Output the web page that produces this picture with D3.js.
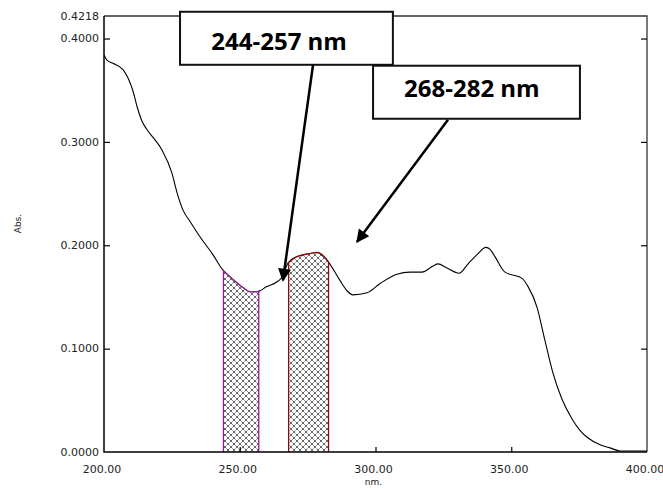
<!DOCTYPE html>
<html>
<head>
<meta charset="utf-8">
<script src="https://cdn.jsdelivr.net/npm/d3@7/dist/d3.min.js"></script>
<style>
  html, body { margin: 0; padding: 0; background: #fff; }
  svg { display: block; }
</style>
</head>
<body>
<svg id="chart" width="663" height="488"></svg>
<script>
// UV absorbance spectrum (wavelength in nm, absorbance)
const wavelengths = [200.0, 201.1, 203.3, 207.0, 208.8, 210.7, 212.2, 214.0, 215.8, 218.8,
  221.4, 225.0, 226.9, 229.1, 231.7, 235.4, 240.1, 243.8, 247.5, 251.2,
  253.8, 256.4, 260.0, 261.9, 265.6, 266.7, 267.8, 271.1, 275.9, 278.5,
  281.4, 282.9, 286.9, 289.5, 291.7, 296.9, 301.7, 307.9, 312.7, 317.1,
  321.2, 323.0, 326.3, 330.8, 334.1, 337.4, 340.7, 342.2, 344.0, 347.7,
  354.0, 356.2, 359.5, 362.4, 365.4, 368.7, 372.4, 375.3, 378.3, 382.7,
  386.4, 390.1, 400.0];
const absorbance = [0.384, 0.379, 0.376, 0.370, 0.362, 0.349, 0.334, 0.320, 0.312, 0.302,
  0.292, 0.270, 0.251, 0.234, 0.223, 0.208, 0.191, 0.176, 0.167, 0.159,
  0.155, 0.155, 0.160, 0.162, 0.169, 0.176, 0.183, 0.189, 0.192, 0.193,
  0.188, 0.183, 0.166, 0.156, 0.152, 0.154, 0.163, 0.172, 0.174, 0.174,
  0.180, 0.182, 0.178, 0.173, 0.182, 0.191, 0.198, 0.196, 0.189, 0.174,
  0.168, 0.160, 0.140, 0.108, 0.076, 0.051, 0.032, 0.021, 0.0135, 0.007,
  0.004, 0.001, 0.001];

// Integrated bands
const bandRanges = [[244, 257], [268, 282.7]];
const bandColors = ["#8e1b8e", "#8b0a0a"];
const bandLabels = ["244-257 nm", "268-282 nm"];

// Axis ticks
const xTicks = [200, 250, 300, 350, 400];
const yTicks = [0, 0.1, 0.2, 0.3, 0.4];
const yMax = 0.4218;

// Annotation callouts: box extents, label anchor and arrow (data units)
const boxX = [[228.0, 306.4], [299.1, 375.3]];
const boxY = [[0.4259, 0.3746], [0.3737, 0.3224]];
const labelPos = [[264.5, 0.389], [335.5, 0.3435]];
const arrowFrom = [[277.0, 0.3746], [326.7, 0.3214]];
const arrowTo = [[265.9, 0.1660], [293.2, 0.2033]];

const spectrum = wavelengths.map((w, i) => ({ w, a: absorbance[i] }));

const svg = d3.select("#chart");
const x = d3.scaleLinear().domain([200, 400]).range([104, 647]);
const y = d3.scaleLinear().domain([0, yMax]).range([452, 16]);

const defs = svg.append("defs");

// Cross-hatch fill
const pat = defs.append("pattern")
  .attr("id", "hatch")
  .attr("patternUnits", "userSpaceOnUse")
  .attr("width", 6).attr("height", 6);
pat.append("rect").attr("width", 6).attr("height", 6).attr("fill", "#fff");
pat.append("path").attr("d", "M0,0L6,6M6,0L0,6M-1,5L1,7M5,-1L7,1M-1,1L1,-1M5,7L7,5")
  .attr("stroke", "#8a8a8a").attr("stroke-width", 0.8);
[[0, 0], [6, 0], [0, 6], [6, 6], [3, 3]].forEach(([cx, cy]) =>
  pat.append("circle").attr("cx", cx).attr("cy", cy).attr("r", 0.75).attr("fill", "#111"));

defs.append("marker")
  .attr("id", "arrowhead")
  .attr("viewBox", "0 0 10 10")
  .attr("refX", 9).attr("refY", 5)
  .attr("markerUnits", "userSpaceOnUse")
  .attr("markerWidth", 16).attr("markerHeight", 13)
  .attr("orient", "auto")
  .append("path").attr("d", "M0,0L10,5L0,10Z").attr("fill", "#000");

// Spectrum line
const line = d3.line().x(d => x(d.w)).y(d => y(d.a)).curve(d3.curveMonotoneX);
svg.append("path")
  .datum(spectrum)
  .attr("fill", "none")
  .attr("stroke", "#000")
  .attr("stroke-width", 1.1)
  .attr("d", line);

// Hatched band areas under the curve
const interp = w => {
  const i = d3.bisector(d => d.w).right(spectrum, w) - 1;
  const a = spectrum[Math.max(0, i)], b = spectrum[Math.min(spectrum.length - 1, i + 1)];
  if (b.w === a.w) return a.a;
  return a.a + (b.a - a.a) * (w - a.w) / (b.w - a.w);
};
bandRanges.forEach(([w0, w1], k) => {
  const pts = [{ w: w0, a: interp(w0) }]
    .concat(spectrum.filter(d => d.w > w0 && d.w < w1))
    .concat([{ w: w1, a: interp(w1) }]);
  const area = d3.area().x(d => x(d.w)).y0(y(0)).y1(d => y(d.a)).curve(d3.curveMonotoneX);
  svg.append("path").datum(pts).attr("d", area).attr("fill", "url(#hatch)");
  const outline = d3.line().x(d => x(d.w)).y(d => y(d.a)).curve(d3.curveMonotoneX);
  const top = outline(pts);
  svg.append("path")
    .attr("d", `M${x(w0)},${y(0)}L${x(w0)},${y(pts[0].a)}` + top.replace(/^M[^LC]*/, "") +
      `L${x(w1)},${y(0)}`)
    .attr("fill", "none")
    .attr("stroke", bandColors[k])
    .attr("stroke-width", 1.3);
});

// Frame
svg.append("path")
  .attr("d", `M${x(200)},${y(yMax)}H${x(400)}V${y(0)}`)
  .attr("fill", "none").attr("stroke", "#333").attr("stroke-width", 1.3);
svg.append("path")
  .attr("d", `M${x(200)},${y(yMax)}V${y(0)}H${x(400)}`)
  .attr("fill", "none").attr("stroke", "#000").attr("stroke-width", 1.5);

// Axes
const fmtY = d3.format(".4f");
const gl = svg.append("g").attr("transform", `translate(${x(200)},0)`)
  .call(d3.axisRight(y).tickValues(yTicks.filter(t => t > 0)).tickSize(6).tickFormat(""));
const gr = svg.append("g").attr("transform", `translate(${x(400)},0)`)
  .call(d3.axisLeft(y).tickValues(yTicks.filter(t => t > 0)).tickSize(6).tickFormat(""));
const gb = svg.append("g").attr("transform", `translate(0,${y(0)})`)
  .call(d3.axisTop(x).tickValues(xTicks.slice(1, -1)).tickSize(5).tickFormat(""));
[gl, gr, gb].forEach(g => {
  g.select(".domain").remove();
  g.selectAll("line").attr("stroke", "#000").attr("stroke-width", 1.2);
});

const tickFont = "'DejaVu Sans', sans-serif";
svg.append("g").selectAll("text")
  .data(yTicks.concat([yMax]))
  .join("text")
  .attr("x", x(200) - 5)
  .attr("y", d => y(d))
  .attr("dy", "0.35em")
  .attr("text-anchor", "end")
  .attr("font-family", tickFont)
  .attr("font-size", 11)
  .attr("fill", "#222")
  .text(d => fmtY(d));

svg.append("g").selectAll("text")
  .data(xTicks)
  .join("text")
  .attr("x", d => x(d) - 2)
  .attr("y", y(0) + 21)
  .attr("text-anchor", "middle")
  .attr("font-family", tickFont)
  .attr("font-size", 11)
  .attr("fill", "#222")
  .text(d => d.toFixed(2));

svg.append("text")
  .attr("transform", `translate(21,${y(0.221)}) rotate(-90)`)
  .attr("text-anchor", "middle")
  .attr("font-family", tickFont)
  .attr("font-size", 9)
  .attr("fill", "#222")
  .text("Abs.");

svg.append("text")
  .attr("x", x(300) - 2)
  .attr("y", y(0) + 33)
  .attr("text-anchor", "middle")
  .attr("font-family", tickFont)
  .attr("font-size", 9)
  .attr("fill", "#222")
  .text("nm.");

// Callout arrows and boxes
bandLabels.forEach((lab, k) => {
  svg.append("line")
    .attr("x1", x(arrowFrom[k][0])).attr("y1", y(arrowFrom[k][1]))
    .attr("x2", x(arrowTo[k][0])).attr("y2", y(arrowTo[k][1]))
    .attr("stroke", "#000").attr("stroke-width", 2.5)
    .attr("marker-end", "url(#arrowhead)");
});
bandLabels.forEach((lab, k) => {
  svg.append("rect")
    .attr("x", x(boxX[k][0])).attr("y", y(boxY[k][0]))
    .attr("width", x(boxX[k][1]) - x(boxX[k][0]))
    .attr("height", y(boxY[k][1]) - y(boxY[k][0]))
    .attr("fill", "#fff").attr("stroke", "#111").attr("stroke-width", 2);
  svg.append("text")
    .attr("x", x(labelPos[k][0])).attr("y", y(labelPos[k][1]))
    .attr("text-anchor", "middle")
    .attr("font-family", "'Open Sans', sans-serif")
    .attr("font-weight", "bold")
    .attr("font-size", 24)
    .attr("fill", "#000")
    .text(lab);
});
</script>
</body>
</html>
